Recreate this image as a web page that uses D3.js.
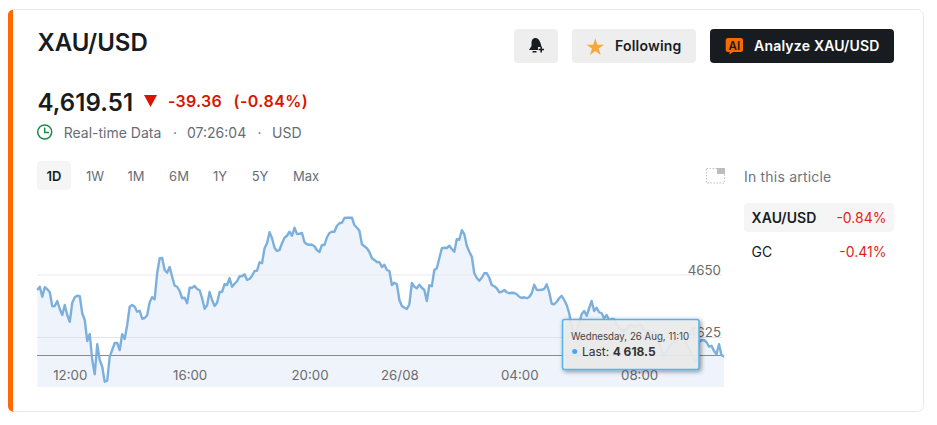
<!DOCTYPE html>
<html><head><meta charset="utf-8">
<script src="https://cdn.jsdelivr.net/npm/d3@7"></script>
<style>html,body{margin:0;padding:0;background:#fff}svg{display:block}text{font-family:Inter,"Noto Sans",sans-serif}</style>
</head><body><svg id="c" width="937" height="425"></svg>
<script>
const firstMinute = -65, stepMinutes = 5;
const prices = [
4644.0,4645.3,4641.3,4645.1,4644.3,4643.1,4637.5,4637.6,4639.6,4636.4,4634.0,4638.0,4634.0,4631.3,4638.9,4641.1,4641.7,4641.5,4634.7,4632.0,4623.6,4626.4,4616.0,4610.3,4622.3,4616.0,4613.3,4607.3,4607.7,4617.3,4620.0,4622.8,4622.8,4620.0,4626.3,4624.4,4630.0,4637.3,4638.0,4637.3,4635.3,4635.7,4632.5,4632.8,4633.9,4639.1,4641.1,4640.3,4650.7,4656.7,4656.8,4652.0,4650.9,4653.2,4649.3,4645.7,4645.3,4643.6,4640.7,4640.9,4638.7,4644.9,4644.9,4645.6,4644.4,4643.9,4640.7,4636.5,4637.9,4643.2,4640.0,4637.6,4638.9,4643.2,4643.3,4646.3,4646.0,4648.7,4645.3,4646.5,4647.5,4649.5,4649.5,4650.3,4648.0,4648.4,4649.7,4651.6,4651.7,4655.1,4654.7,4660.7,4662.7,4667.1,
4664.7,4660.9,4659.6,4660.0,4662.7,4664.9,4665.7,4667.3,4665.7,4668.9,4666.4,4666.5,4666.8,4663.1,4662.3,4662.1,4662.1,4661.5,4659.9,4659.2,4662.0,4662.0,4665.1,4666.8,4667.3,4667.3,4669.7,4670.7,4670.9,4672.8,4672.9,4672.9,4672.9,4670.0,4668.9,4667.7,4662.3,4661.5,4660.7,4659.2,4656.7,4656.0,4655.2,4655.1,4653.2,4654.1,4652.0,4651.6,4646.0,4646.9,4646.3,4640.0,4637.6,4636.9,4636.4,4638.3,4646.8,4645.3,4644.7,4646.1,4644.9,4644.0,4639.6,4645.9,4645.5,4652.0,4652.7,4656.7,4660.7,4660.9,4660.8,4661.7,4660.4,4659.3,4664.3,4664.1,4667.9,4666.3,4661.7,4659.3,4657.3,4650.7,4648.8,4647.7,4648.9,4650.7,4650.7,4648.9,4646.0,4645.5,4644.7,4643.1,
4643.3,4644.0,4643.1,4642.7,4642.9,4642.8,4642.3,4641.3,4640.8,4641.1,4640.7,4641.2,4642.7,4646.1,4644.1,4644.0,4644.1,4644.4,4646.3,4643.1,4638.5,4638.3,4639.3,4640.7,4641.7,4640.0,4638.0,4634.7,4629.3,4626.7,4627.3,4630.7,4634.3,4635.6,4633.7,4636.7,4639.6,4635.6,4636.9,4635.1,4634.7,4632.7,4634.0,4632.0,4632.4,4632.4,4630.0,4628.9,4628.4,4627.6,4628.4,4629.7,4630.0,4629.3,4629.6,4630.0,4629.7,4628.0,4627.1,4627.6,4626.8,4627.1,4626.3,4623.1,4619.6,4617.3,4619.3,4621.3,4622.7,4623.1,4624.7,4625.7,4626.0,4624.4,4622.3,4620.4,4618.3,4616.4,4615.6,4623.3,4623.9,4624.0,4623.1,4621.3,4621.7,4619.6,4618.3,4622.3,4618.0,4617.3];
const tickMinutes = [0,240,480,660,900,1140];
const tickLabels = ["12:00","16:00","20:00","26/08","04:00","08:00"];
const gridValues = [4650,4625];
const referenceLevel = 4617.8;
const tabs = ["1D","1W","1M","6M","1Y","5Y","Max"];
const tabCenters = [54,95,136,179,220,260,306];
const articleRows = ["XAU/USD","GC"];
const articleChanges = ["-0.84%","-0.41%"];

const svg = d3.select("#c");
const ink="#181c21", grey="#666d78", red="#d91400", redLite="#e0251a";
function T(x,y,s,o={}){const t=svg.append("text").attr("x",x).attr("y",y).text(s)
  .attr("font-size",o.size||14).attr("font-weight",o.w||400).attr("fill",o.fill||ink).attr("text-anchor",o.a||"start")
  .attr("letter-spacing",o.ls||0);return t;}
function R(x,y,w,h,f,r=4){return svg.append("rect").attr("x",x).attr("y",y).attr("width",w).attr("height",h).attr("fill",f).attr("rx",r);}

// card
svg.append("rect").attr("x",8.5).attr("y",9.5).attr("width",915).attr("height",402).attr("rx",6).attr("fill","#fff").attr("stroke","#e8e8e8");
svg.append("path").attr("d","M14 10H13C10 10 8 12 8 15V406C8 409 10 411.500 13 411.500H14Z").attr("fill","#ff6a00");
svg.append("rect").attr("x",13).attr("y",10).attr("width",2).attr("height",401).attr("fill","#fff");

// header
T(37.5,51,"XAU/USD",{size:24,w:600});
T(37.5,110.500,"4,619.51",{size:24,w:600,ls:.08});
svg.append("path").attr("d",d3.line()([[144,95],[157,95],[150.500,107]])+"Z").attr("fill",red);
T(168,107,"-39.36",{size:16,w:600,fill:red,ls:.25});
T(233.500,107,"(-0.84%)",{size:16,w:600,fill:red,ls:.45});
svg.append("circle").attr("cx",44.700).attr("cy",132).attr("r",7).attr("fill","none").attr("stroke","#1d8a4d").attr("stroke-width",1.500);
svg.append("path").attr("d","M44.700 127.500V132.500H49").attr("fill","none").attr("stroke","#1d8a4d").attr("stroke-width",1.500);
T(63.700,138,"Real-time Data",{fill:grey});
T(175,138,"·",{fill:grey,a:"middle"});
T(187,138,"07:26:04",{fill:grey});
T(259.500,138,"·",{fill:grey,a:"middle"});
T(272,138,"USD",{fill:grey});

// buttons
R(514,29,44,34,"#eeeeee");
R(572,29,124,34,"#eeeeee");
R(710,29,184,34,ink);
svg.append("path").attr("d","M535.500 38C532.500 38 531.500 40.500 531.500 43V46L529 50H538V47H541.500C541 43 539 38 535.500 38Z M532.500 51H536.500V52.500H532.500Z").attr("fill",ink);
svg.append("path").attr("d","M538.500 49.500H544M541.200 46.800V52.500").attr("stroke",ink).attr("stroke-width",1.600);
svg.append("path").attr("transform","translate(595.300,47.500)").attr("d",d3.symbol(d3.symbolStar,95)()).attr("fill","#f5a93a");
T(615,51,"Following",{w:600,ls:.2});
svg.append("path").attr("d","M728 38H741C742 38 743 39 743 40V50C743 51 742 52 741 52H733L729.500 54.500V52H728C726.700 52 725.700 51 725.700 50V40C725.700 39 726.700 38 728 38Z").attr("fill","#f26a00");
T(734.300,49.500,"AI",{size:11.500,w:600,fill:ink,a:"middle"});
T(754,51,"Analyze XAU/USD",{w:600,fill:"#fff",ls:.2});

// tabs
R(37,161,34,29,"#f5f5f5");
tabs.forEach((t,i)=>T(tabCenters[i],181,t,{size:13,w:i?400:600,fill:i?grey:ink,a:"middle"}));

// side panel
svg.append("rect").attr("x",706.500).attr("y",168.500).attr("width",18).attr("height",14.500).attr("fill","none").attr("stroke","#c4c4c4").attr("stroke-dasharray","1.500 1.500");
R(717,168,8,6,"#bdbdbd",0);
T(744,182,"In this article",{fill:"#6f7480",ls:.2});
R(744,203,150,29,"#f5f5f5");
articleRows.forEach((r,i)=>{
  T(751.500,223+i*34,r,{w:i?400:600,ls:i?0:.1});
  T(886.500,223+i*34,articleChanges[i],{fill:redLite,a:"end"});
});

// chart
const chartBottom = 387;
const x = d3.scaleLinear().domain([firstMinute,firstMinute+stepMinutes*(prices.length-1)]).range([37.300,724]);
const y = d3.scaleLinear().domain([4625,4650]).range([337.500,275]);
const rows = prices.map((p,i)=>({m:firstMinute+i*stepMinutes,p}));
svg.append("path").datum(rows).attr("fill","#eff4fc")
  .attr("d",d3.area().x(d=>x(d.m)).y0(chartBottom).y1(d=>y(d.p)));
const g = svg.append("g");
g.selectAll("line.grid").data(gridValues).join("line").attr("class","grid")
  .attr("x1",37).attr("x2",722).attr("y1",d=>y(d)).attr("y2",d=>y(d))
  .attr("stroke",(d,i)=>i?"#e0e3ea":"#e8e8e8");
svg.append("line").attr("x1",37).attr("x2",724).attr("y1",y(referenceLevel)).attr("y2",y(referenceLevel)).attr("stroke","#8a8a8a");
svg.append("path").datum(rows).attr("fill","none").attr("stroke","#7cb0dc").attr("stroke-width",2.400).attr("stroke-linejoin","round")
  .attr("d",d3.line().x(d=>x(d.m)).y(d=>y(d.p)));
svg.append("g").attr("transform","translate(0,366)")
  .call(d3.axisBottom(x).tickValues(tickMinutes).tickFormat((d,i)=>tickLabels[i]).tickSize(0).tickPadding(5))
  .call(a=>a.select(".domain").remove())
  .call(a=>a.selectAll("text").attr("font-size",13.300).attr("font-family","Inter").attr("fill","#6b6b6b"));
g.selectAll("text.gl").data(gridValues).join("text").attr("class","gl").attr("x",721).attr("y",d=>y(d)-0.500)
  .attr("text-anchor","end").attr("font-size",13.300).attr("fill","#6b6b6b").text(d=>d);

// tooltip
const defs = svg.append("defs");
const f = defs.append("filter").attr("id","sh").attr("x","-20%").attr("y","-30%").attr("width","140%").attr("height","170%");
f.append("feDropShadow").attr("dx",1.500).attr("dy",1.500).attr("stdDeviation",2).attr("flood-color","#000").attr("flood-opacity",.45);
svg.append("rect").attr("x",562.500).attr("y",319.500).attr("width",136.500).attr("height",50).attr("rx",2)
  .attr("fill","rgba(238,238,238,.9)").attr("stroke","#50b4f0").attr("stroke-width",1.500).attr("filter","url(#sh)");
T(571,340,"Wednesday, 26 Aug, 11:10",{size:9.700,fill:"#444"});
svg.append("circle").attr("cx",574.700).attr("cy",351.500).attr("r",2.500).attr("fill","#3fa9f5");
const last = T(582,356,"Last: ",{size:12,fill:"#333"});
last.append("tspan").attr("font-weight",700).text("4 618.5");
</script></body></html>
